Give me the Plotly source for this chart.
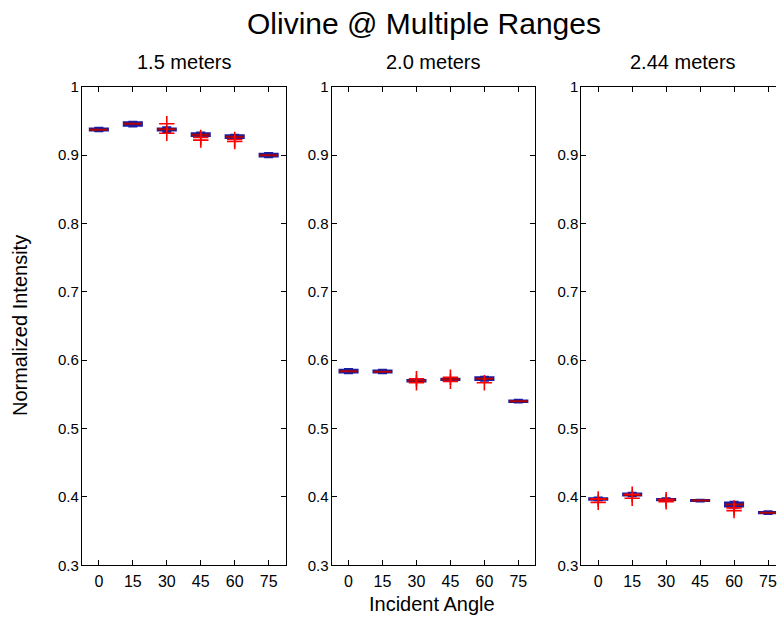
import plotly.graph_objects as go

# Incident angles (degrees) shared by every panel
angles = [0, 15, 30, 45, 60, 75]
angle_labels = ["0", "15", "30", "45", "60", "75"]
ranges = ["1.5 meters", "2.0 meters", "2.44 meters"]

# Box statistics per range: lower whisker, q1, median, q3, upper whisker
lo_15 = [0.935, 0.942, 0.934, 0.927, 0.924, 0.897]
q1_15 = [0.936, 0.943, 0.936, 0.928, 0.925, 0.898]
med_15 = [0.937, 0.946, 0.938, 0.930, 0.927, 0.900]
q3_15 = [0.939, 0.948, 0.939, 0.932, 0.929, 0.902]
hi_15 = [0.940, 0.949, 0.941, 0.933, 0.930, 0.903]
out_15 = [[], [], [0.946, 0.932], [0.926, 0.922], [0.923, 0.920], []]

lo_20 = [0.581, 0.581, 0.568, 0.570, 0.570, 0.538]
q1_20 = [0.582, 0.582, 0.569, 0.571, 0.571, 0.539]
med_20 = [0.584, 0.583, 0.570, 0.572, 0.573, 0.540]
q3_20 = [0.586, 0.585, 0.571, 0.573, 0.575, 0.541]
hi_20 = [0.587, 0.586, 0.572, 0.574, 0.576, 0.542]
out_20 = [[], [], [0.573, 0.567], [0.575, 0.569], [0.567], []]

lo_244 = [0.395, 0.401, 0.394, 0.3935, 0.384, 0.375]
q1_244 = [0.396, 0.402, 0.395, 0.394, 0.386, 0.376]
med_244 = [0.397, 0.403, 0.396, 0.3948, 0.389, 0.377]
q3_244 = [0.398, 0.405, 0.397, 0.3955, 0.392, 0.378]
hi_244 = [0.399, 0.406, 0.398, 0.396, 0.393, 0.379]
out_244 = [[0.397, 0.392], [0.404, 0.398], [0.396, 0.393], [], [0.384, 0.380], []]

y_ticks = [0.3, 0.4, 0.5, 0.6, 0.7, 0.8, 0.9, 1.0]
y_tick_labels = ["0.3", "0.4", "0.5", "0.6", "0.7", "0.8", "0.9", "1"]

panels = [
    (lo_15, q1_15, med_15, q3_15, hi_15, out_15),
    (lo_20, q1_20, med_20, q3_20, hi_20, out_20),
    (lo_244, q1_244, med_244, q3_244, hi_244, out_244),
]

W, H = 777, 619
FONT = "Liberation Sans, Arial, sans-serif"
BOX_W = 8.0  # box width in degrees

# panel placement in pixels (left edge, width); the last panel runs off the page edge
px_left = [82, 332, 582]
px_w = 204
top_px, bot_px = 80, 572
deg_per_px = 90.0 / px_w

fig = go.Figure()

for i, (lo, q1, med, q3, hi, outs) in enumerate(panels):
    ax = "" if i == 0 else str(i + 1)
    xref, yref = "x" + ax, "y" + ax
    # box bodies (blue)
    fig.add_trace(go.Box(
        x=angles, q1=q1, median=med, q3=q3, lowerfence=lo, upperfence=hi,
        width=BOX_W, whiskerwidth=0.5, boxpoints=False,
        line=dict(color="#1c1ca0", width=2), fillcolor="rgba(0,0,0,0)",
        xaxis=xref, yaxis=yref, showlegend=False, hoverinfo="skip"))
    # median lines (red)
    fig.add_trace(go.Box(
        x=angles, q1=med, median=med, q3=med, lowerfence=med, upperfence=med,
        width=BOX_W, whiskerwidth=0, boxpoints=False,
        line=dict(color="#b00000", width=2), fillcolor="rgba(0,0,0,0)",
        xaxis=xref, yaxis=yref, showlegend=False, hoverinfo="skip"))
    # outliers (red +)
    ox, oy = [], []
    for a, vals in zip(angles, outs):
        for v in vals:
            ox.append(a)
            oy.append(v)
    fig.add_trace(go.Scatter(
        x=ox, y=oy, mode="markers",
        marker=dict(symbol="cross-thin", size=11, line=dict(color="#ff0000", width=1.6)),
        xaxis=xref, yaxis=yref, showlegend=False, hoverinfo="skip"))

    x0 = px_left[i] / W
    x1 = min((px_left[i] + px_w) / W, 1.0)
    xmax = -7.5 + (min(px_left[i] + px_w, W) - px_left[i]) * deg_per_px
    last = i == len(panels) - 1
    fig.update_layout(**{
        "xaxis" + ax: dict(
            domain=[x0, x1], range=[-7.5, xmax], tickvals=angles, ticktext=angle_labels,
            ticks="inside", ticklen=5, tickcolor="black", showline=True, linecolor="black",
            linewidth=1, mirror="ticks", showgrid=False, zeroline=False,
            ticklabeloverflow="allow", ticklabelstandoff=2,
            tickfont=dict(family=FONT, size=16, color="black"), anchor=yref),
        "yaxis" + ax: dict(
            domain=[(H - bot_px) / H, (H - top_px) / H], range=[0.3, 1.0],
            tickvals=y_ticks, ticktext=y_tick_labels,
            ticks="inside", ticklen=5, tickcolor="black", showline=True, linecolor="black",
            linewidth=1, mirror=False if last else "ticks", showgrid=False, zeroline=False,
            ticklabelstandoff=-1,
            tickfont=dict(family=FONT, size=15, color="black"), anchor=xref),
    })
    fig.add_annotation(
        text=ranges[i], xref="paper", yref="paper",
        x=(px_left[i] + px_w / 2) / W, y=(H - 55) / H,
        showarrow=False, font=dict(family=FONT, size=20, color="black"),
        xanchor="center", yanchor="middle")

fig.add_annotation(
    text="Olivine @ Multiple Ranges", xref="paper", yref="paper",
    x=425 / W, y=(H - 15) / H, showarrow=False,
    font=dict(family=FONT, size=30, color="black"), xanchor="center", yanchor="middle")

fig.add_annotation(
    text="Incident Angle", xref="paper", yref="paper",
    x=433 / W, y=(H - 612) / H, showarrow=False,
    font=dict(family=FONT, size=20, color="black"), xanchor="center", yanchor="middle")

fig.add_annotation(
    text="Normalized Intensity", xref="paper", yref="paper",
    x=20 / W, y=(H - 325) / H, showarrow=False, textangle=-90,
    font=dict(family=FONT, size=20, color="black"), xanchor="center", yanchor="middle")

fig.update_layout(
    width=W, height=H, autosize=False,
    margin=dict(l=0, r=0, t=0, b=0),
    paper_bgcolor="white", plot_bgcolor="white",
    boxmode="overlay",
)

fig.write_html("out.html")
